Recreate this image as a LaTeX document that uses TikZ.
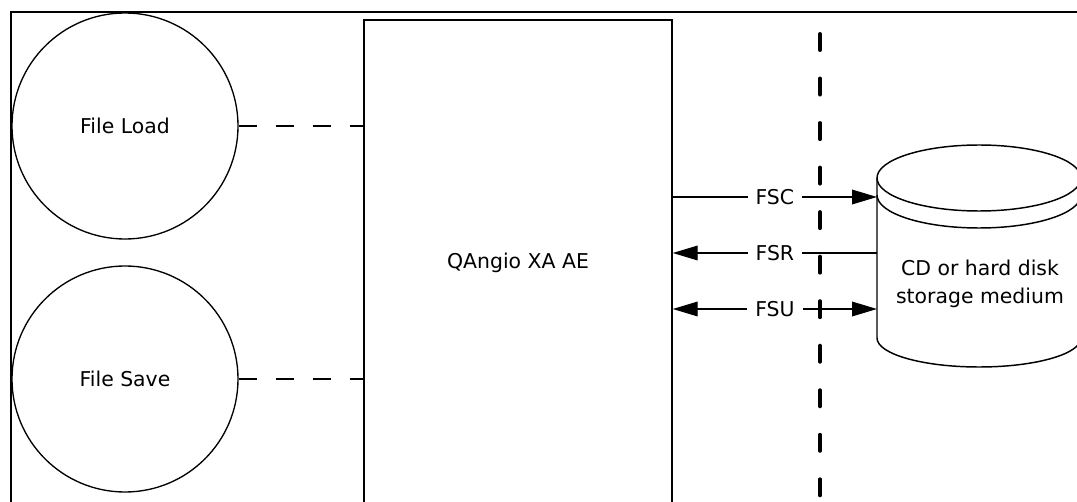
\documentclass[tikz,border=0pt]{standalone}
\usepackage{fontspec}
\setmainfont{DejaVu Sans}
\usetikzlibrary{arrows.meta}

\begin{document}
\begin{tikzpicture}[
  x=0.75pt, y=-0.75pt,
  >={Triangle[length=18.75pt, width=11pt]},
  every node/.style={font=\fontsize{15.3}{21}\selectfont},
  usecase/.style={circle, draw=black, line width=1pt, minimum size=169.5pt, inner sep=0pt},
  system/.style={rectangle, draw=black, line width=1.1pt, minimum width=231pt, minimum height=364.5pt},
  disklabel/.style={align=center},
  flowlabel/.style={fill=white, inner xsep=6pt, inner ysep=2pt},
  link/.style={line width=1pt, dash pattern=on 13.5pt off 14.25pt},
  flow/.style={line width=1pt},
  disk/.style={line width=1.1pt},
  boundary/.style={line width=3pt, line cap=round, dash pattern=on 12pt off 21.4pt},
  frame/.style={line width=2pt},
]
\useasboundingbox (0,0) rectangle (1077,502);
\clip (0,0) rectangle (1077,502);

% ---- outer frame (cut off at right and bottom) ----
\draw[frame] (1077,12) -| (11,502);

% ---- use cases and the application ----
\node[usecase] (load)   at (125,126) {File Load};
\node[usecase] (save)   at (125,379) {File Save};
\node[system]  (qangio) at (518,263) {QAngio XA AE};

% ---- storage medium (cylinder) ----
\node[disklabel] (disk) at (980,284) {CD or hard disk\\storage medium};
\draw[disk] (979,178) ellipse [x radius=102, y radius=33];
\draw[disk] (877,195) arc[start angle=180, end angle=0, x radius=102, y radius=33];
\draw[disk] (877,178) -- (877,338) arc[start angle=180, end angle=0, x radius=102, y radius=29] -- (1081,178);

% ---- attachment points on the cylinder ----
\coordinate (fscIn)  at (877,197);
\coordinate (fsrOut) at (877,253);
\coordinate (fsuIn)  at (877,309);

% ---- system boundary ----
\coordinate (bndTop) at (820,34);
\coordinate (bndBot) at (820,497);
\draw[boundary] (bndTop) -- (bndBot);

% ---- links ----
\draw[link] (load.east) -- (load.east -| qangio.west);
\draw[link] (save.east) -- (save.east -| qangio.west);
\draw[flow, ->]  (qangio.east |- fscIn)  -- node[flowlabel] {FSC} (fscIn);
\draw[flow, <-]  (qangio.east |- fsrOut) -- node[flowlabel] {FSR} (fsrOut);
\draw[flow, <->] (qangio.east |- fsuIn)  -- node[flowlabel] {FSU} (fsuIn);

\end{tikzpicture}
\end{document}
